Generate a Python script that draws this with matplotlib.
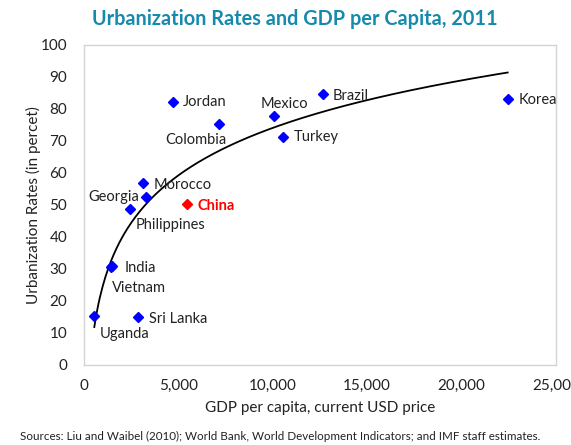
import matplotlib
matplotlib.use("Agg")
import matplotlib.pyplot as plt
import numpy as np

plt.rcParams['font.family'] = ['Lato', 'DejaVu Sans']

# data
countries = ['Uganda', 'Sri Lanka', 'India', 'Vietnam', 'Philippines', 'Georgia',
             'Morocco', 'China', 'Jordan', 'Colombia', 'Mexico', 'Turkey',
             'Brazil', 'Korea']
gdp_pc = [546, 2877, 1500, 1420, 2436, 3268, 3109, 5440, 4730, 7166,
          10080, 10556, 12660, 22440]
urban = [15.4, 15.0, 30.9, 30.5, 48.7, 52.6, 56.8, 50.3, 82.3, 75.2,
         77.9, 71.2, 84.6, 83.0]

x_ticks = [0, 5000, 10000, 15000, 20000, 25000]
y_ticks = [0, 10, 20, 30, 40, 50, 60, 70, 80, 90, 100]

# label placement (offset in pixels, alignment)
label_pos = {
    'Uganda': (5, -18, 'left'),
    'Sri Lanka': (11, -2, 'left'),
    'India': (12, -2, 'left'),
    'Vietnam': (1, -21, 'left'),
    'Philippines': (6, -16, 'left'),
    'Georgia': (-6, 0, 'right'),
    'Morocco': (11, -2, 'left'),
    'China': (11, -2, 'left'),
    'Jordan': (10, 0, 'left'),
    'Colombia': (7, -16, 'right'),
    'Mexico': (10, 12, 'center'),
    'Turkey': (10, 0, 'left'),
    'Brazil': (10, -2, 'left'),
    'Korea': (11, -1, 'left'),
}

fig = plt.figure(figsize=(5.71, 4.45), dpi=100)
ax = fig.add_axes([0.1471, 0.1798, 0.8266, 0.7191])

# logarithmic trend line, like the excel one
gx = np.array(gdp_pc, dtype=float)
gy = np.array(urban, dtype=float)
a, b = np.polyfit(np.log(gx), gy, 1)
xs = np.linspace(gx.min(), gx.max(), 300)
ax.plot(xs, a * np.log(xs) + b, color='black', lw=1.3, zorder=2)

for name, x, y in zip(countries, gdp_pc, urban):
    col = 'red' if name == 'China' else 'blue'
    ax.plot(x, y, marker='D', ms=5, color=col, ls='none', zorder=3)
    dx, dy, ha = label_pos[name]
    ax.annotate(name, (x, y), xytext=(dx, dy), textcoords='offset pixels',
                ha=ha, va='center', fontsize=10.5,
                color='red' if name == 'China' else '#222222',
                fontweight='bold' if name == 'China' else 'normal')

ax.set_xlim(0, 25000)
ax.set_ylim(0, 100)
ax.set_xticks(x_ticks)
ax.set_xticklabels([f'{v:,}' for v in x_ticks])
ax.set_yticks(y_ticks)
ax.tick_params(length=0, labelsize=11, colors='#222222', pad=10)
ax.tick_params(axis='y', pad=12)
for s in ax.spines.values():
    s.set_color('#d4d4d4')
    s.set_linewidth(1)

ax.set_xlabel('GDP per capita, current USD price', fontsize=11, color='#222222', labelpad=6)
ax.set_ylabel('Urbanization Rates (in percet)', fontsize=11, color='#222222', labelpad=0)

fig.text(0.516, 0.958, 'Urbanization Rates and GDP per Capita, 2011', ha='center', va='center',
         fontsize=14.3, fontweight='bold', color='#168aad')
fig.text(0.035, 0.02, 'Sources: Liu and Waibel (2010); World Bank, World Development Indicators; and IMF staff estimates.',
         ha='left', va='center', fontsize=8.4, color='#222222')

fig.savefig('out.png', dpi=100)
